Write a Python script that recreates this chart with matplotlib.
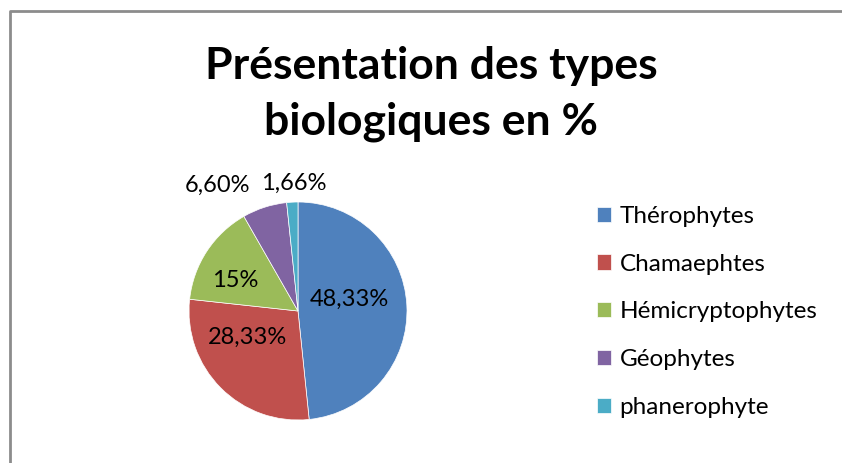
import matplotlib.pyplot as plt
import numpy as np

plt.rcParams['font.family'] = ['Lato', 'DejaVu Sans']

types = ['Thérophytes', 'Chamaephtes', 'Hémicryptophytes', 'Géophytes', 'phanerophyte']
pourcent = [48.33, 28.33, 15, 6.60, 1.66]
etiquettes = ['48,33%', '28,33%', '15%', '6,60%', '1,66%']
couleurs = ['#4F81BD', '#C0504D', '#9BBB59', '#8064A2', '#4BACC6']

# label offsets from the pie centre, in radius units
offsets = [(0.47, 0.11), (-0.46, -0.24), (-0.58, 0.28), (-0.74, 1.15), (-0.04, 1.17)]

fig = plt.figure(figsize=(8.42, 4.63), dpi=100)
ax = fig.add_axes([0, 0, 1, 1])

cx, cy, r = 298, 152, 109
wedges, _ = ax.pie(pourcent, colors=couleurs, startangle=90, counterclock=False,
                   center=(cx, cy), radius=r, frame=True,
                   wedgeprops=dict(edgecolor='white', linewidth=0.5))
ax.set_xlim(0, 842)
ax.set_ylim(0, 463)
ax.set_aspect('equal')
ax.axis('off')

for (dx, dy), txt in zip(offsets, etiquettes):
    ax.text(cx + dx * r, cy + dy * r, txt, ha='center', va='center', fontsize=17)

ax.text(431, 369, 'Présentation des types\nbiologiques en %', ha='center', va='center',
        fontsize=32, fontweight='bold', linespacing=1.45)

leg = ax.legend(wedges, types, loc='upper left', bbox_to_anchor=(575, 279),
                bbox_transform=ax.transData, frameon=False, fontsize=17.5,
                handlelength=0.58, handleheight=0.58, handletextpad=0.35,
                labelspacing=1.1)

# chart border (only top and left visible in the crop)
ax.plot([9.5, 9.5, 842], [0, 452.5, 452.5], color='#8c8c8c', linewidth=2,
        clip_on=False, solid_capstyle='butt')

fig.savefig('out.png', dpi=100)
